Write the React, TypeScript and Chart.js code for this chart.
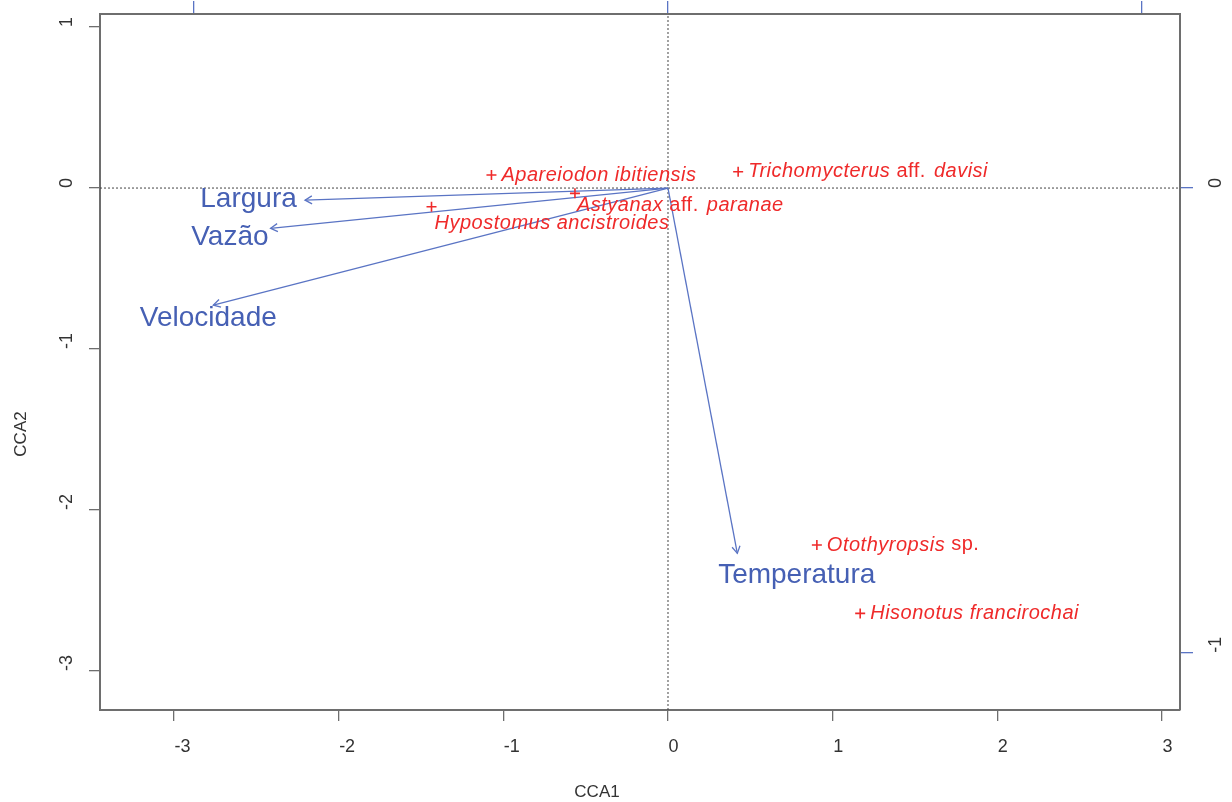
import React, { useEffect, useRef } from "react";
import { Chart, registerables } from "chart.js";

Chart.register(...registerables);

// ---- data ----
const speciesNames = [
  "Apareiodon ibitiensis",
  "Trichomycterus aff. davisi",
  "Astyanax aff. paranae",
  "Hypostomus ancistroides",
  "Otothyropsis sp.",
  "Hisonotus francirochai",
];
const speciesCCA1 = [-1.072, 0.426, -0.565, -1.436, 0.904, 1.167];
const speciesCCA2 = [0.081, 0.101, -0.033, -0.116, -2.217, -2.642];

const envNames = ["Largura", "Vazão", "Velocidade", "Temperatura"];
const envCCA1 = [-2.204, -2.413, -2.761, 0.421];
const envCCA2 = [-0.075, -0.25, -0.727, -2.269];

const xTicks = [-3, -2, -1, 0, 1, 2, 3];
const yTicks = [1, 0, -1, -2, -3];
const topTicks = [-1, 0, 1];
const rightTicks = [0, -1];

const xTitle = "CCA1";
const yTitle = "CCA2";

// ---- ranges ----
const X_MIN = -3.449;
const X_MAX = 3.109;
const Y_MIN = -3.242;
const Y_MAX = 1.081;
const X2_MIN = -1.198;
const X2_MAX = 1.08;
const Y2_MIN = -1.123;
const Y2_MAX = 0.374;

// ---- layout (pixels) ----
const speciesLabelOffset: [number, number][] = [
  [10, 0],
  [10, 0],
  [2, 12],
  [3, 17],
  [10, 0],
  [10, 0],
];
const envLabelOffset: [number, number][] = [
  [-56.5, -1],
  [-40.7, 8.7],
  [-5, 13.3],
  [59.4, 21.7],
];

const RED = "#ef2a2a";
const BLUE_TEXT = "#4660b4";
const BLUE_LINE = "#5a74c4";
const GRAY = "#6e6e6e";
const TICK_TEXT = "#333333";
const FONT = '"Liberation Sans", Arial, sans-serif';

const overlay = {
  id: "overlay",
  beforeDraw(chart: any) {
    const { ctx, width, height } = chart;
    ctx.save();
    ctx.fillStyle = "#ffffff";
    ctx.fillRect(0, 0, width, height);
    ctx.restore();
  },
  afterDatasetsDraw(chart: any) {
    const { ctx } = chart;
    const sx = chart.scales.x;
    const sy = chart.scales.y;
    const sy2 = chart.scales.y2;
    const ox = sx.getPixelForValue(0);
    const oy = sy.getPixelForValue(0);

    // arrowheads
    ctx.save();
    ctx.strokeStyle = BLUE_LINE;
    ctx.lineWidth = 1.3;
    envCCA1.forEach((vx, i) => {
      const px = sx.getPixelForValue(vx);
      const py = sy.getPixelForValue(envCCA2[i]);
      const ang = Math.atan2(py - oy, px - ox);
      const L = 8;
      const a = Math.PI / 6;
      ctx.beginPath();
      ctx.moveTo(px - L * Math.cos(ang - a), py - L * Math.sin(ang - a));
      ctx.lineTo(px, py);
      ctx.lineTo(px - L * Math.cos(ang + a), py - L * Math.sin(ang + a));
      ctx.stroke();
    });
    ctx.restore();

    // env labels
    ctx.save();
    ctx.fillStyle = BLUE_TEXT;
    ctx.font = `28px ${FONT}`;
    ctx.textAlign = "center";
    ctx.textBaseline = "middle";
    envNames.forEach((name, i) => {
      const px = sx.getPixelForValue(envCCA1[i]);
      const py = sy.getPixelForValue(envCCA2[i]);
      ctx.fillText(name, px + envLabelOffset[i][0], py + envLabelOffset[i][1]);
    });
    ctx.restore();

    // species labels
    ctx.save();
    ctx.fillStyle = RED;
    ctx.textAlign = "left";
    ctx.textBaseline = "middle";
    try {
      (ctx as any).letterSpacing = "0.5px";
    } catch (e) {}
    speciesNames.forEach((name, i) => {
      let px = sx.getPixelForValue(speciesCCA1[i]) + speciesLabelOffset[i][0];
      const py = sy.getPixelForValue(speciesCCA2[i]) + speciesLabelOffset[i][1];
      const words = name.split(" ");
      words.forEach((w, k) => {
        const upright = w === "aff." || w === "sp.";
        ctx.font = `${upright ? "" : "italic "}20px ${FONT}`;
        ctx.fillText(w, px, py);
        px += ctx.measureText(w).width;
        if (k < words.length - 1) px += ctx.measureText(" ").width + (upright ? 2 : 0);
      });
    });
    ctx.restore();

    // tick labels
    ctx.save();
    ctx.fillStyle = TICK_TEXT;
    ctx.font = `18px ${FONT}`;
    ctx.textBaseline = "middle";
    ctx.textAlign = "left";
    xTicks.forEach((v) => {
      ctx.fillText(String(v), sx.getPixelForValue(v) + 0.5, 747);
    });
    const rot = (label: string, x: number, y: number) => {
      ctx.save();
      ctx.translate(x, y);
      ctx.rotate(-Math.PI / 2);
      ctx.fillText(label, 0, 0);
      ctx.restore();
    };
    yTicks.forEach((v) => rot(String(v), 67, sy.getPixelForValue(v)));
    rightTicks.forEach((v) => rot(String(v), 1216, sy2.getPixelForValue(v)));

    // axis titles
    ctx.font = `17px ${FONT}`;
    ctx.textAlign = "center";
    ctx.fillText(xTitle, 597, 792);
    ctx.save();
    ctx.translate(21, 434);
    ctx.rotate(-Math.PI / 2);
    ctx.fillText(yTitle, 0, 0);
    ctx.restore();
    ctx.restore();
  },
};

export default function App() {
  const ref = useRef<HTMLCanvasElement | null>(null);

  useEffect(() => {
    if (!ref.current) return;
    const datasets: any[] = [
      {
        data: [
          { x: 0, y: Y_MIN },
          { x: 0, y: Y_MAX },
        ],
        showLine: true,
        borderColor: "#444444",
        borderWidth: 1,
        borderDash: [2, 2],
        pointRadius: 0,
        order: 10,
      },
      {
        data: [
          { x: X_MIN, y: 0 },
          { x: X_MAX, y: 0 },
        ],
        showLine: true,
        borderColor: "#444444",
        borderWidth: 1,
        borderDash: [2, 2],
        pointRadius: 0,
        order: 10,
      },
      ...envNames.map((n, i) => ({
        label: n,
        data: [
          { x: 0, y: 0 },
          { x: envCCA1[i], y: envCCA2[i] },
        ],
        showLine: true,
        borderColor: BLUE_LINE,
        borderWidth: 1.3,
        pointRadius: 0,
        order: 5,
      })),
      {
        label: "species",
        data: speciesCCA1.map((x, i) => ({ x, y: speciesCCA2[i] })),
        showLine: false,
        pointStyle: "cross",
        pointRadius: 5,
        borderColor: RED,
        backgroundColor: RED,
        borderWidth: 1.6,
        order: 1,
      },
    ];

    const gridBase = { drawOnChartArea: false, drawTicks: true, lineWidth: 1.3 };
    const chart = new Chart(ref.current, {
      type: "scatter",
      data: { datasets },
      options: {
        animation: false,
        responsive: false,
        devicePixelRatio: 1,
        layout: { padding: 0 },
        plugins: { legend: { display: false }, tooltip: { enabled: false } },
        scales: {
          x: {
            type: "linear",
            position: "bottom",
            min: X_MIN,
            max: X_MAX,
            afterBuildTicks: (s: any) => {
              s.ticks = xTicks.map((value) => ({ value }));
            },
            ticks: { display: false },
            grid: { ...gridBase, tickLength: 11, color: GRAY },
            border: { display: true, color: GRAY, width: 2 },
            afterFit: (s: any) => {
              s.height = 92;
            },
          },
          y: {
            type: "linear",
            position: "left",
            min: Y_MIN,
            max: Y_MAX,
            afterBuildTicks: (s: any) => {
              s.ticks = yTicks.map((value) => ({ value }));
            },
            ticks: { display: false },
            grid: { ...gridBase, tickLength: 11, color: GRAY },
            border: { display: true, color: GRAY, width: 2 },
            afterFit: (s: any) => {
              s.width = 100;
            },
          },
          x2: {
            type: "linear",
            position: "top",
            min: X2_MIN,
            max: X2_MAX,
            afterBuildTicks: (s: any) => {
              s.ticks = topTicks.map((value) => ({ value }));
            },
            ticks: { display: false },
            grid: { ...gridBase, tickLength: 13, color: BLUE_LINE },
            border: { display: true, color: GRAY, width: 2 },
            afterFit: (s: any) => {
              s.height = 14;
            },
          },
          y2: {
            type: "linear",
            position: "right",
            min: Y2_MIN,
            max: Y2_MAX,
            afterBuildTicks: (s: any) => {
              s.ticks = rightTicks.map((value) => ({ value }));
            },
            ticks: { display: false },
            grid: { ...gridBase, tickLength: 13, color: BLUE_LINE },
            border: { display: true, color: GRAY, width: 2 },
            afterFit: (s: any) => {
              s.width = 52;
            },
          },
        },
      } as any,
      plugins: [overlay],
    });
    return () => chart.destroy();
  }, []);

  return (
    <div style={{ position: "fixed", left: 0, top: 0, width: 1232, height: 802, background: "#fff" }}>
      <canvas ref={ref} width={1232} height={802} style={{ display: "block" }} />
    </div>
  );
}
